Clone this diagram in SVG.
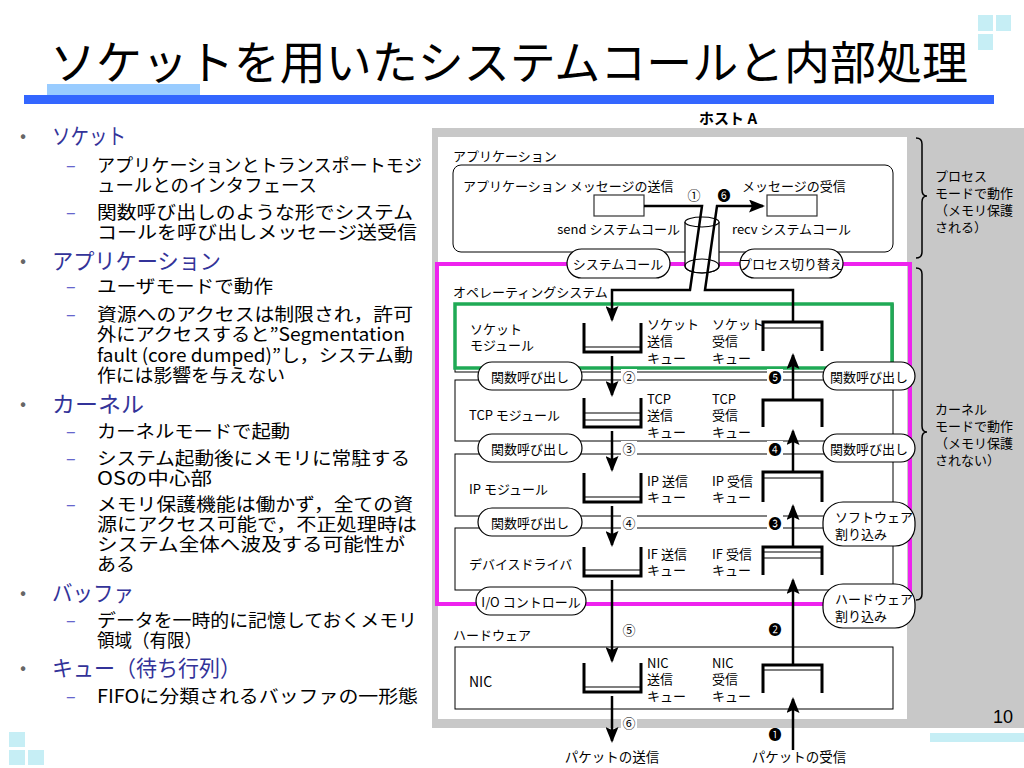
<svg xmlns="http://www.w3.org/2000/svg" width="1024" height="768" viewBox="0 0 1024 768">
<defs>
<style>
text{font-family:"Noto Sans CJK JP","Noto Sans","DejaVu Sans",sans-serif;dominant-baseline:central}
.l1{font-size:22px;fill:#333399}
.l2{font-size:18px;fill:#000}
.bul{font-size:18px;fill:#666}
.dash{font-size:18px;fill:#6666cc}
.lb{font-size:13px;fill:#000}
.num{font-size:13px;fill:#000;text-anchor:middle}
.pill{fill:#fff;stroke:#000;stroke-width:1.2}
.box{fill:none;stroke:#000;stroke-width:1}
.q{fill:none;stroke:#000;stroke-width:3}
.qi{fill:none;stroke:#000;stroke-width:1.2}
.ar{fill:none;stroke:#000;stroke-width:2.5}
.deco{fill:#c6eef5}
.wb{fill:#fff}
</style>
<marker id="ah" viewBox="0 0 16 13" refX="14" refY="6.5" markerWidth="16" markerHeight="13" markerUnits="userSpaceOnUse" orient="auto">
<path d="M0,0 L16,6.5 L0,13 L3,6.5 z" fill="#000"/>
</marker>
</defs>
<rect width="1024" height="768" fill="#fff"/>

<!-- header -->
<g id="header">
<rect class="deco" x="978" y="15" width="15" height="16"/>
<rect class="deco" x="996" y="15" width="15" height="16"/>
<rect class="deco" x="978" y="34" width="15" height="16"/>
<text x="50" y="59" font-size="46" textLength="918" lengthAdjust="spacingAndGlyphs" fill="#000">ソケットを用いたシステムコールと内部処理</text>
<rect x="47" y="84" width="153" height="12" fill="#99ccff"/>
<rect x="24" y="95" width="970" height="9" fill="#3366ff"/>
</g>

<!-- left text -->
<g id="bullets">
<text class="bul" x="20" y="134">•</text>
<text class="l1" x="52" y="134" textLength="74" lengthAdjust="spacingAndGlyphs">ソケット</text>
<text class="dash" x="66" y="164">–</text>
<text class="l2"><tspan x="97" y="164" textLength="325" lengthAdjust="spacingAndGlyphs">アプリケーションとトランスポートモジ</tspan><tspan x="97" y="184" textLength="220" lengthAdjust="spacingAndGlyphs">ュールとのインタフェース</tspan></text>
<text class="dash" x="66" y="211">–</text>
<text class="l2"><tspan x="97" y="211" textLength="316" lengthAdjust="spacingAndGlyphs">関数呼び出しのような形でシステム</tspan><tspan x="97" y="231" textLength="320" lengthAdjust="spacingAndGlyphs">コールを呼び出しメッセージ送受信</tspan></text>
<text class="bul" x="20" y="259">•</text>
<text class="l1" x="52" y="259" textLength="169" lengthAdjust="spacingAndGlyphs">アプリケーション</text>
<text class="dash" x="66" y="285">–</text>
<text class="l2" x="97" y="285" textLength="176" lengthAdjust="spacingAndGlyphs">ユーザモードで動作</text>
<text class="dash" x="66" y="313">–</text>
<text class="l2"><tspan x="97" y="313" textLength="316" lengthAdjust="spacingAndGlyphs">資源へのアクセスは制限され，許可</tspan><tspan x="97" y="333" textLength="308" lengthAdjust="spacingAndGlyphs">外にアクセスすると”Segmentation</tspan><tspan x="97" y="354" textLength="316" lengthAdjust="spacingAndGlyphs">fault (core dumped)”し，システム動</tspan><tspan x="97" y="374" textLength="188" lengthAdjust="spacingAndGlyphs">作には影響を与えない</tspan></text>
<text class="bul" x="20" y="402">•</text>
<text class="l1" x="52" y="402" textLength="92" lengthAdjust="spacingAndGlyphs">カーネル</text>
<text class="dash" x="66" y="430">–</text>
<text class="l2" x="97" y="430" textLength="193" lengthAdjust="spacingAndGlyphs">カーネルモードで起動</text>
<text class="dash" x="66" y="457">–</text>
<text class="l2"><tspan x="97" y="457" textLength="313" lengthAdjust="spacingAndGlyphs">システム起動後にメモリに常駐する</tspan><tspan x="97" y="477" textLength="115" lengthAdjust="spacingAndGlyphs">OSの中心部</tspan></text>
<text class="dash" x="66" y="503">–</text>
<text class="l2"><tspan x="97" y="503" textLength="316" lengthAdjust="spacingAndGlyphs">メモリ保護機能は働かず，全ての資</tspan><tspan x="97" y="523" textLength="320" lengthAdjust="spacingAndGlyphs">源にアクセス可能で，不正処理時は</tspan><tspan x="97" y="543" textLength="308" lengthAdjust="spacingAndGlyphs">システム全体へ波及する可能性が</tspan><tspan x="97" y="563" textLength="38" lengthAdjust="spacingAndGlyphs">ある</tspan></text>
<text class="bul" x="20" y="591">•</text>
<text class="l1" x="52" y="591" textLength="82" lengthAdjust="spacingAndGlyphs">バッファ</text>
<text class="dash" x="66" y="619">–</text>
<text class="l2"><tspan x="97" y="619" textLength="320" lengthAdjust="spacingAndGlyphs">データを一時的に記憶しておくメモリ</tspan><tspan x="97" y="639" textLength="105" lengthAdjust="spacingAndGlyphs">領域（有限）</tspan></text>
<text class="bul" x="20" y="666">•</text>
<text class="l1" x="52" y="666" textLength="189" lengthAdjust="spacingAndGlyphs">キュー（待ち行列）</text>
<text class="dash" x="66" y="695">–</text>
<text class="l2" x="97" y="695" textLength="321" lengthAdjust="spacingAndGlyphs">FIFOに分類されるバッファの一形態</text>
</g>

<!-- footer -->
<g id="footer">
<rect class="deco" x="9" y="732" width="16" height="15"/>
<rect class="deco" x="9" y="750" width="16" height="15"/>
<rect class="deco" x="28" y="750" width="16" height="15"/>
<rect class="deco" x="930" y="733" width="94" height="9"/>
</g>

<!-- diagram background -->
<g id="panel">
<rect x="432" y="128" width="592" height="600" fill="#c8c8c8"/>
<rect x="438" y="137" width="469" height="582" fill="#fff"/>
<text x="728" y="117" font-size="15" font-weight="bold" text-anchor="middle" fill="#000">ホスト A</text>
</g>

<g id="brace-user">
<path d="M916,138 Q922,138 922,144 L922,190 Q922,196 927,196 Q922,196 922,202 L922,252 Q922,258 916,258" fill="none" stroke="#000" stroke-width="1.5"/>
<text class="lb"><tspan x="935" y="175">プロセス</tspan><tspan x="935" y="192">モードで動作</tspan><tspan x="935" y="209" textLength="78" lengthAdjust="spacing">（メモリ保護</tspan><tspan x="935" y="226">される）</tspan></text>
</g>
<g id="brace-kernel">
<path d="M916,268 Q922,268 922,274 L922,426 Q922,432 927,432 Q922,432 922,438 L922,594 Q922,600 916,600" fill="none" stroke="#000" stroke-width="1.5"/>
<text class="lb"><tspan x="935" y="408">カーネル</tspan><tspan x="935" y="425">モードで動作</tspan><tspan x="935" y="442" textLength="78" lengthAdjust="spacing">（メモリ保護</tspan><tspan x="935" y="459">されない）</tspan></text>
</g>

<g id="application">
<text class="lb" x="453" y="155">アプリケーション</text>
<rect x="453" y="165" width="440" height="87" rx="8" fill="#fff" stroke="#000" stroke-width="1"/>
<text class="lb" x="463" y="185">アプリケーション  メッセージの送信</text>
<text class="lb" x="742" y="185">メッセージの受信</text>
<rect x="594" y="195" width="50" height="21" fill="#fff" stroke="#333" stroke-width="1.2"/>
<rect x="767" y="195" width="50" height="21" fill="#fff" stroke="#333" stroke-width="1.2"/>
<text class="lb" x="680" y="228" text-anchor="end">send システムコール</text>
<text class="lb" x="732" y="228">recv システムコール</text>
</g>

<!-- module boxes -->
<g id="socket-module">
<rect class="box" x="455" y="304" width="438" height="68"/>
<text class="lb"><tspan x="470" y="328">ソケット</tspan><tspan x="470" y="344">モジュール</tspan></text>
</g>
<g id="tcp-module">
<rect class="box" x="455" y="380" width="438" height="61"/>
<text class="lb" x="469" y="414">TCP モジュール</text>
</g>
<g id="ip-module">
<rect class="box" x="455" y="454" width="438" height="62"/>
<text class="lb" x="469" y="488">IP モジュール</text>
</g>
<g id="driver-module">
<rect class="box" x="455" y="528" width="438" height="62"/>
<text class="lb" x="469" y="563">デバイスドライバ</text>
</g>
<g id="hardware">
<text class="lb" x="453" y="634">ハードウェア</text>
<rect class="box" x="455" y="647" width="438" height="62"/>
<text x="469" y="681" font-size="14" fill="#000">NIC</text>
</g>

<g id="os-boundary">
<rect x="437" y="264" width="473" height="340" fill="none" stroke="#ee22ee" stroke-width="4"/>
<text class="lb" x="453" y="291">オペレーティングシステム</text>
</g>
<g id="socket-highlight">
<rect x="455" y="304" width="437" height="64" fill="none" stroke="#1faa55" stroke-width="3.5"/>
</g>

<!-- queues -->
<g id="send-queues">
<path class="q" d="M584,323 V352 H641 V323"/><path class="qi" d="M584,347 H641"/>
<path class="q" d="M584,398 V427 H641 V398"/><path class="qi" d="M584,413 H641 M584,420 H641"/>
<path class="q" d="M584,473 V502 H641 V473"/><path class="qi" d="M584,497 H641"/>
<path class="q" d="M584,547 V576 H641 V547"/><path class="qi" d="M584,570 H641"/>
<path class="q" d="M584,663 V692 H641 V663"/><path class="qi" d="M584,687 H641"/>
<text class="lb"><tspan x="647" y="323">ソケット</tspan><tspan x="647" y="340">送信</tspan><tspan x="647" y="357">キュー</tspan></text>
<text class="lb"><tspan x="647" y="398">TCP</tspan><tspan x="647" y="414">送信</tspan><tspan x="647" y="431">キュー</tspan></text>
<text class="lb"><tspan x="647" y="480">IP 送信</tspan><tspan x="647" y="496">キュー</tspan></text>
<text class="lb"><tspan x="647" y="553">IF 送信</tspan><tspan x="647" y="569">キュー</tspan></text>
<text class="lb"><tspan x="647" y="662">NIC</tspan><tspan x="647" y="678">送信</tspan><tspan x="647" y="695">キュー</tspan></text>
</g>
<g id="recv-queues">
<path class="q" d="M763,351 V322 H822 V351"/><path class="qi" d="M763,328 H822"/>
<path class="q" d="M763,427 V400 H822 V427"/>
<path class="q" d="M763,502 V472 H822 V502"/><path class="qi" d="M763,478 H822"/>
<path class="q" d="M763,575 V547 H822 V575"/><path class="qi" d="M763,552 H822 M763,558 H822"/>
<path class="q" d="M763,693 V665 H822 V693"/><path class="qi" d="M763,670 H822"/>
<text class="lb"><tspan x="712" y="323">ソケット</tspan><tspan x="712" y="340">受信</tspan><tspan x="712" y="357">キュー</tspan></text>
<text class="lb"><tspan x="712" y="398">TCP</tspan><tspan x="712" y="414">受信</tspan><tspan x="712" y="431">キュー</tspan></text>
<text class="lb"><tspan x="712" y="480">IP 受信</tspan><tspan x="712" y="496">キュー</tspan></text>
<text class="lb"><tspan x="712" y="553">IF 受信</tspan><tspan x="712" y="569">キュー</tspan></text>
<text class="lb"><tspan x="712" y="662">NIC</tspan><tspan x="712" y="678">受信</tspan><tspan x="712" y="695">キュー</tspan></text>
</g>

<g id="syscall-cylinder">
<path d="M685,222 V266 A17,7 0 0 0 719,266 V222" fill="#fff" stroke="#000" stroke-width="1.2"/>
<ellipse cx="702" cy="266" rx="17" ry="7" fill="none" stroke="#000" stroke-width="1.2"/>
<ellipse cx="702" cy="222" rx="17" ry="5" fill="#fff" stroke="#000" stroke-width="1.2"/>
</g>

<!-- connectors -->
<g id="connectors">
<path class="ar" d="M644,206 H702 L690,290 H612 V320" marker-end="url(#ah)"/>
<path class="ar" d="M793,322 V290 H705 L717,206 H763" marker-end="url(#ah)"/>
<path class="ar" d="M612,356 V395" marker-end="url(#ah)"/>
<path class="ar" d="M612,431 V470" marker-end="url(#ah)"/>
<path class="ar" d="M612,506 V545" marker-end="url(#ah)"/>
<path class="ar" d="M612,580 V661" marker-end="url(#ah)"/>
<path class="ar" d="M612,696 V741" marker-end="url(#ah)"/>
<path class="ar" d="M793,750 V699" marker-end="url(#ah)"/>
<path class="ar" d="M793,665 V580" marker-end="url(#ah)"/>
<path class="ar" d="M793,547 V506" marker-end="url(#ah)"/>
<path class="ar" d="M793,472 V431" marker-end="url(#ah)"/>
<path class="ar" d="M793,400 V355" marker-end="url(#ah)"/>
</g>

<!-- pills -->
<g id="pill-syscall"><rect class="pill" x="567" y="249" width="103" height="29" rx="14.5"/><text class="lb" x="618" y="263" text-anchor="middle">システムコール</text></g>
<g id="pill-switch"><rect class="pill" x="740" y="249" width="103" height="29" rx="14.5"/><text class="lb" x="791" y="263" text-anchor="middle">プロセス切り替え</text></g>
<g id="pill-call-l1"><rect class="pill" x="478" y="362" width="104" height="28" rx="14"/><text class="lb" x="530" y="376" text-anchor="middle">関数呼び出し</text></g>
<g id="pill-call-l2"><rect class="pill" x="478" y="434" width="104" height="28" rx="14"/><text class="lb" x="530" y="448" text-anchor="middle">関数呼び出し</text></g>
<g id="pill-call-l3"><rect class="pill" x="478" y="508" width="104" height="28" rx="14"/><text class="lb" x="530" y="522" text-anchor="middle">関数呼び出し</text></g>
<g id="pill-io"><rect class="pill" x="476" y="587" width="110" height="28" rx="14"/><text class="lb" x="531" y="601" text-anchor="middle">I/O コントロール</text></g>
<g id="pill-call-r1"><rect class="pill" x="823" y="362" width="92" height="28" rx="14"/><text class="lb" x="869" y="376" text-anchor="middle">関数呼び出し</text></g>
<g id="pill-call-r2"><rect class="pill" x="823" y="434" width="92" height="28" rx="14"/><text class="lb" x="869" y="448" text-anchor="middle">関数呼び出し</text></g>
<g id="pill-softirq"><rect class="pill" x="823" y="502" width="92" height="44" rx="20"/><text class="lb"><tspan x="835" y="516">ソフトウェア</tspan><tspan x="835" y="533">割り込み</tspan></text></g>
<g id="pill-hardirq"><rect class="pill" x="823" y="584" width="92" height="44" rx="20"/><text class="lb"><tspan x="835" y="598">ハードウェア</tspan><tspan x="835" y="615">割り込み</tspan></text></g>

<!-- step numbers -->
<g id="steps">
<text class="num" x="694" y="194">①</text>
<text class="num" x="724" y="194">❻</text>
<rect class="wb" x="621" y="369" width="16" height="15"/><text class="num" x="629" y="376">②</text>
<rect class="wb" x="621" y="441" width="16" height="15"/><text class="num" x="629" y="448">③</text>
<rect class="wb" x="621" y="515" width="16" height="15"/><text class="num" x="629" y="522">④</text>
<text class="num" x="629" y="629">⑤</text>
<rect class="wb" x="621" y="715" width="16" height="14"/><text class="num" x="629" y="722">⑥</text>
<text class="num" x="775" y="733">❶</text>
<text class="num" x="775" y="628">❷</text>
<rect class="wb" x="767" y="515" width="16" height="15"/><text class="num" x="775" y="522">❸</text>
<rect class="wb" x="767" y="441" width="16" height="15"/><text class="num" x="775" y="448">❹</text>
<rect class="wb" x="767" y="369" width="16" height="15"/><text class="num" x="775" y="376">❺</text>
</g>

<g id="io-labels">
<text x="612" y="756" font-size="13.5" text-anchor="middle" fill="#000">パケットの送信</text>
<text x="799" y="756" font-size="13.5" text-anchor="middle" fill="#000">パケットの受信</text>
<text x="1003" y="717" font-size="18" text-anchor="middle" fill="#000" style="font-family:'Liberation Sans',sans-serif">10</text>
</g>
</svg>
